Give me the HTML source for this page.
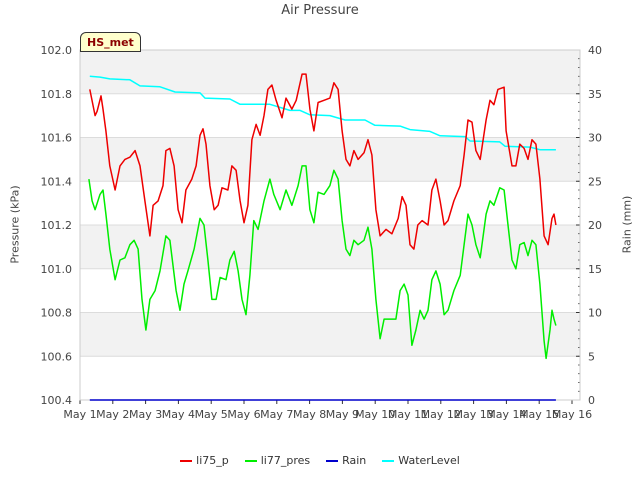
<!DOCTYPE html>
<html><head><meta charset="utf-8"><style>
body{margin:0;background:#fff;font-family:"Liberation Sans","DejaVu Sans",sans-serif}
svg text{font-family:"DejaVu Sans","Liberation Sans",sans-serif}
</style></head><body>
<svg id="chart" width="640" height="480" xmlns="http://www.w3.org/2000/svg"></svg>
<script>
const xTickLabels=["May 1","May 2","May 3","May 4","May 5","May 6","May 7","May 8","May 9","May 10","May 11","May 12","May 13","May 14","May 15","May 16"];
const leftTicks=[100.4,100.6,100.8,101.0,101.2,101.4,101.6,101.8,102.0];
const rightTicks=[0,5,10,15,20,25,30,35,40];
const redDays=[0.30,0.46,0.52,0.64,0.70,0.79,0.91,1.07,1.22,1.37,1.52,1.68,1.83,1.98,2.13,2.23,2.38,2.53,2.62,2.74,2.87,2.99,3.11,3.23,3.41,3.54,3.66,3.75,3.84,3.96,4.09,4.21,4.33,4.51,4.63,4.76,4.88,5.00,5.12,5.24,5.37,5.49,5.61,5.73,5.85,5.98,6.16,6.28,6.46,6.59,6.77,6.89,7.01,7.13,7.26,7.44,7.62,7.74,7.87,7.99,8.11,8.23,8.35,8.48,8.66,8.78,8.90,9.02,9.15,9.33,9.51,9.70,9.82,9.94,10.06,10.18,10.30,10.43,10.61,10.73,10.85,10.98,11.10,11.22,11.40,11.59,11.71,11.83,11.95,12.07,12.20,12.38,12.50,12.62,12.74,12.93,12.99,13.17,13.29,13.41,13.54,13.66,13.78,13.90,14.02,14.15,14.27,14.39,14.45,14.51];
const li75p=[101.82,101.70,101.72,101.79,101.73,101.63,101.47,101.36,101.47,101.50,101.51,101.54,101.47,101.31,101.15,101.29,101.31,101.38,101.54,101.55,101.47,101.27,101.21,101.36,101.41,101.47,101.61,101.64,101.57,101.38,101.27,101.29,101.37,101.36,101.47,101.45,101.31,101.21,101.29,101.59,101.66,101.61,101.70,101.82,101.84,101.77,101.69,101.78,101.73,101.77,101.89,101.89,101.73,101.63,101.76,101.77,101.78,101.85,101.82,101.63,101.50,101.47,101.54,101.50,101.53,101.59,101.52,101.27,101.15,101.18,101.16,101.23,101.33,101.29,101.11,101.09,101.20,101.22,101.20,101.36,101.41,101.31,101.20,101.22,101.31,101.38,101.52,101.68,101.67,101.54,101.50,101.68,101.77,101.75,101.82,101.83,101.63,101.47,101.47,101.57,101.55,101.50,101.59,101.57,101.41,101.15,101.11,101.23,101.25,101.20];
const greenDays=[0.27,0.37,0.46,0.61,0.70,0.79,0.91,1.07,1.22,1.37,1.52,1.65,1.77,1.89,2.01,2.13,2.29,2.44,2.62,2.74,2.93,3.05,3.17,3.29,3.48,3.66,3.78,3.90,4.02,4.15,4.27,4.45,4.57,4.70,4.82,4.94,5.06,5.18,5.30,5.43,5.61,5.79,5.91,6.10,6.28,6.46,6.65,6.77,6.89,7.01,7.13,7.26,7.44,7.62,7.74,7.87,7.99,8.11,8.23,8.35,8.48,8.66,8.78,8.90,9.02,9.15,9.27,9.45,9.63,9.76,9.88,10.00,10.12,10.24,10.37,10.49,10.61,10.73,10.85,10.98,11.10,11.22,11.40,11.59,11.71,11.83,11.95,12.07,12.20,12.38,12.50,12.62,12.80,12.93,13.05,13.17,13.29,13.41,13.54,13.66,13.78,13.90,14.02,14.15,14.21,14.33,14.39,14.45,14.51];
const li77pres=[101.41,101.31,101.27,101.34,101.36,101.25,101.09,100.95,101.04,101.05,101.11,101.13,101.09,100.86,100.72,100.86,100.90,100.99,101.15,101.13,100.90,100.81,100.93,100.99,101.09,101.23,101.20,101.04,100.86,100.86,100.96,100.95,101.04,101.08,100.99,100.86,100.79,100.97,101.22,101.18,101.31,101.41,101.34,101.27,101.36,101.29,101.38,101.47,101.47,101.27,101.21,101.35,101.34,101.38,101.45,101.41,101.22,101.09,101.06,101.13,101.11,101.13,101.19,101.09,100.86,100.68,100.77,100.77,100.77,100.90,100.93,100.88,100.65,100.72,100.81,100.77,100.81,100.95,100.99,100.93,100.79,100.81,100.90,100.97,101.11,101.25,101.20,101.11,101.05,101.25,101.31,101.29,101.37,101.36,101.20,101.04,101.00,101.11,101.12,101.06,101.13,101.11,100.93,100.67,100.59,100.72,100.81,100.77,100.74];
const waterDays=[0.30,0.61,0.91,1.52,1.83,2.44,2.90,3.66,3.81,4.57,4.88,5.79,6.40,6.71,7.01,7.62,8.08,8.69,8.99,9.76,10.06,10.67,10.98,11.74,11.89,12.80,12.96,13.72,14.02,14.51];
const waterLevel=[37.0,36.9,36.7,36.6,35.9,35.8,35.2,35.1,34.5,34.4,33.8,33.8,33.1,33.1,32.6,32.5,32.0,32.0,31.4,31.3,30.9,30.7,30.2,30.1,29.6,29.5,29.0,28.9,28.6,28.6];
const rainDays=[0.30,14.51];
const rain=[0,0];

const L=80,R=580,T=50,B=400;
const xs=d=>L+d*32.8;
const yl=v=>B-(v-100.4)/1.6*(B-T);
const yr=v=>B-v/40*(B-T);
const svg=document.getElementById('chart');
const NS='http://www.w3.org/2000/svg';
function mk(tag,attrs,parent){const e=document.createElementNS(NS,tag);for(const k in attrs)e.setAttribute(k,attrs[k]);(parent||svg).appendChild(e);return e;}

// bands & grid
for(let i=0;i<leftTicks.length-1;i++){
  const y1=yl(leftTicks[i+1]),y0=yl(leftTicks[i]);
  const r=mk('rect',{x:L,y:y1,width:R-L,height:y0-y1,fill:(i%2===1)?'#f2f2f2':'#ffffff'});
  
  
}
leftTicks.forEach(v=>{
  const g=mk('line',{x1:L,x2:R,y1:yl(v),y2:yl(v),stroke:'#dcdcdc','stroke-width':1});
  
  
  const t=mk('text',{x:L-8,y:yl(v)+4,'text-anchor':'end','font-size':11,fill:'#444'});
  t.textContent=v.toFixed(1);
  
  
});
rightTicks.forEach(v=>{
  const t=mk('text',{x:R+8,y:yr(v)+4,'font-size':11,fill:'#444'});
  t.textContent=v;
  
  
  mk('line',{x1:R,x2:R-4,y1:yr(v),y2:yr(v),stroke:'#333'});
});
for(let v=0;v<=40;v++){mk('line',{x1:R,x2:R-2,y1:yr(v),y2:yr(v),stroke:'#333','stroke-width':0.7});}
xTickLabels.forEach((s,i)=>{
  const t=mk('text',{x:xs(i),y:B+18,'text-anchor':'middle','font-size':11,fill:'#444'});
  t.textContent=s;
  
  
  mk('line',{x1:xs(i),x2:xs(i),y1:B,y2:B+4,stroke:'#333'});
});
// axes frame
const fr=mk('rect',{x:L,y:T,width:R-L,height:B-T,fill:'none',stroke:'#ccc'});



function series(days,vals,yf,color,name){
  const d=days.map((x,i)=>(i?'L':'M')+xs(x).toFixed(1)+','+yf(vals[i]).toFixed(1)).join('');
  const p=mk('path',{d:d,fill:'none',stroke:color,'stroke-width':1.5,'stroke-linejoin':'round'});
  
  
}
series(waterDays,waterLevel,yr,'#00ffff','waterlevel-line');
series(rainDays,rain,yr,'#0000cc','rain-line');
series(greenDays,li77pres,yl,'#00ee00','li77-pres-line');
series(redDays,li75p,yl,'#ee0000','li75-p-line');
</script>
<div style="position:absolute;left:0;top:3px;width:640px;text-align:center;font-size:13px;color:#444;font-family:'DejaVu Sans',sans-serif">Air Pressure</div>
<div style="position:absolute;left:-35px;top:218px;width:100px;text-align:center;transform:rotate(-90deg);font-size:11px;color:#444;font-family:'DejaVu Sans',sans-serif">Pressure (kPa)</div>
<div style="position:absolute;left:577px;top:218px;width:100px;text-align:center;transform:rotate(-90deg);font-size:11px;color:#444;font-family:'DejaVu Sans',sans-serif">Rain (mm)</div>
<div style="position:absolute;left:80px;top:32px;padding:3px 6px 2px 6px;background:#ffffcc;border:1px solid #333;border-radius:6px 6px 0 0;font-size:11px;font-weight:bold;color:#8b0000;font-family:'DejaVu Sans',sans-serif">HS_met</div>
<div style="position:absolute;left:0;top:454px;width:640px;display:flex;justify-content:center;gap:16px;font-size:11px;color:#333;font-family:'DejaVu Sans',sans-serif">
<span><span style="display:inline-block;width:12px;height:2px;background:#ee0000;vertical-align:middle;margin-right:4px"></span>li75_p</span>
<span><span style="display:inline-block;width:12px;height:2px;background:#00ee00;vertical-align:middle;margin-right:4px"></span>li77_pres</span>
<span><span style="display:inline-block;width:12px;height:2px;background:#0000cc;vertical-align:middle;margin-right:4px"></span>Rain</span>
<span><span style="display:inline-block;width:12px;height:2px;background:#00ffff;vertical-align:middle;margin-right:4px"></span>WaterLevel</span>
</div>
</body></html>
